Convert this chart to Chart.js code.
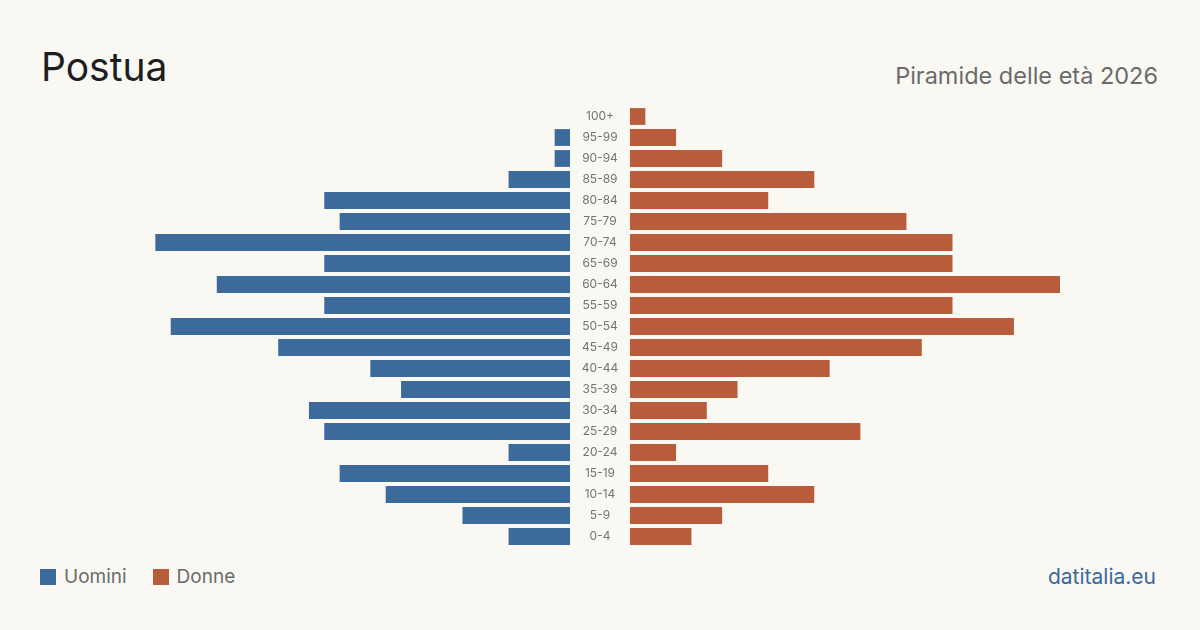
<!DOCTYPE html>
<html><head><meta charset="utf-8">
<script src="https://cdn.jsdelivr.net/npm/chart.js@4"></script>
<style>
html,body{margin:0;padding:0;background:#f9f8f3;}
body{width:1200px;height:630px;position:relative;overflow:hidden;font-family:Inter,"Noto Sans",sans-serif;}
#title{position:absolute;left:41px;top:47px;font-size:39px;color:#1e1e1e;line-height:1;}
#sub{position:absolute;right:42px;top:64px;font-size:23.5px;color:#6b6b6b;line-height:1;}
#legend{position:absolute;left:40px;top:565px;font-size:19px;color:#6b6b6b;display:flex;align-items:center;}
.sw{display:inline-block;width:16px;height:16px;margin-right:8px;}
.item{display:flex;align-items:center;margin-right:26px;}
#brand{position:absolute;right:44px;top:564px;font-size:21px;color:#3b6a9b;}
#lw{position:absolute;left:140px;top:106px;width:430px;height:441px;}
#rw{position:absolute;left:570px;top:106px;width:490px;height:441px;}
</style></head>
<body>
<div id="title">Postua</div>
<div id="sub">Piramide delle età 2026</div>
<div id="lw"><canvas id="cl"></canvas></div>
<div id="rw"><canvas id="cr"></canvas></div>
<div id="legend"><span class="item"><span class="sw" style="background:#3b6a9b"></span>Uomini</span><span class="item"><span class="sw" style="background:#b95c3c"></span>Donne</span></div>
<div id="brand">datitalia.eu</div>
<script>
const ageGroups = ["100+","95-99","90-94","85-89","80-84","75-79","70-74","65-69","60-64","55-59","50-54","45-49","40-44","35-39","30-34","25-29","20-24","15-19","10-14","5-9","0-4"];
const men   = [0,1,1,4,16,15,27,16,23,16,26,19,13,11,17,16,4,15,12,7,4];
const women = [1,3,6,12,9,18,21,21,28,21,25,19,13,7,5,15,3,9,12,6,4];
const maxVal = Math.max(...men, ...women);

const common = {
  indexAxis:'y', responsive:true, maintainAspectRatio:false, animation:false,
  plugins:{legend:{display:false}, tooltip:{enabled:false}}
};
const centerLabels = {
  id:'centerLabels',
  afterDraw(chart){
    const ctx = chart.ctx, y = chart.scales.y;
    ctx.save();
    ctx.font = '12px Inter, "Noto Sans", sans-serif';
    ctx.fillStyle = '#747474';
    ctx.textAlign = 'center';
    ctx.textBaseline = 'middle';
    chart.data.labels.forEach((l,i)=>{
      ctx.fillText(l, chart.chartArea.left - 30, y.getPixelForValue(i));
    });
    ctx.restore();
  }
};
new Chart(document.getElementById('cl'), {
  type:'bar',
  data:{labels:ageGroups, datasets:[{data:men, backgroundColor:'#3b6a9b', barPercentage:0.8, categoryPercentage:1.0}]},
  options:{...common, layout:{padding:0},
    scales:{
      x:{reverse:true, min:0, max:maxVal, display:false},
      y:{display:false}
    }}
});
new Chart(document.getElementById('cr'), {
  type:'bar',
  data:{labels:ageGroups, datasets:[{data:women, backgroundColor:'#b95c3c', barPercentage:0.8, categoryPercentage:1.0}]},
  options:{...common, layout:{padding:{left:60}},
    scales:{
      x:{min:0, max:maxVal, display:false},
      y:{display:false}
    }},
  plugins:[centerLabels]
});
</script>
</body></html>
